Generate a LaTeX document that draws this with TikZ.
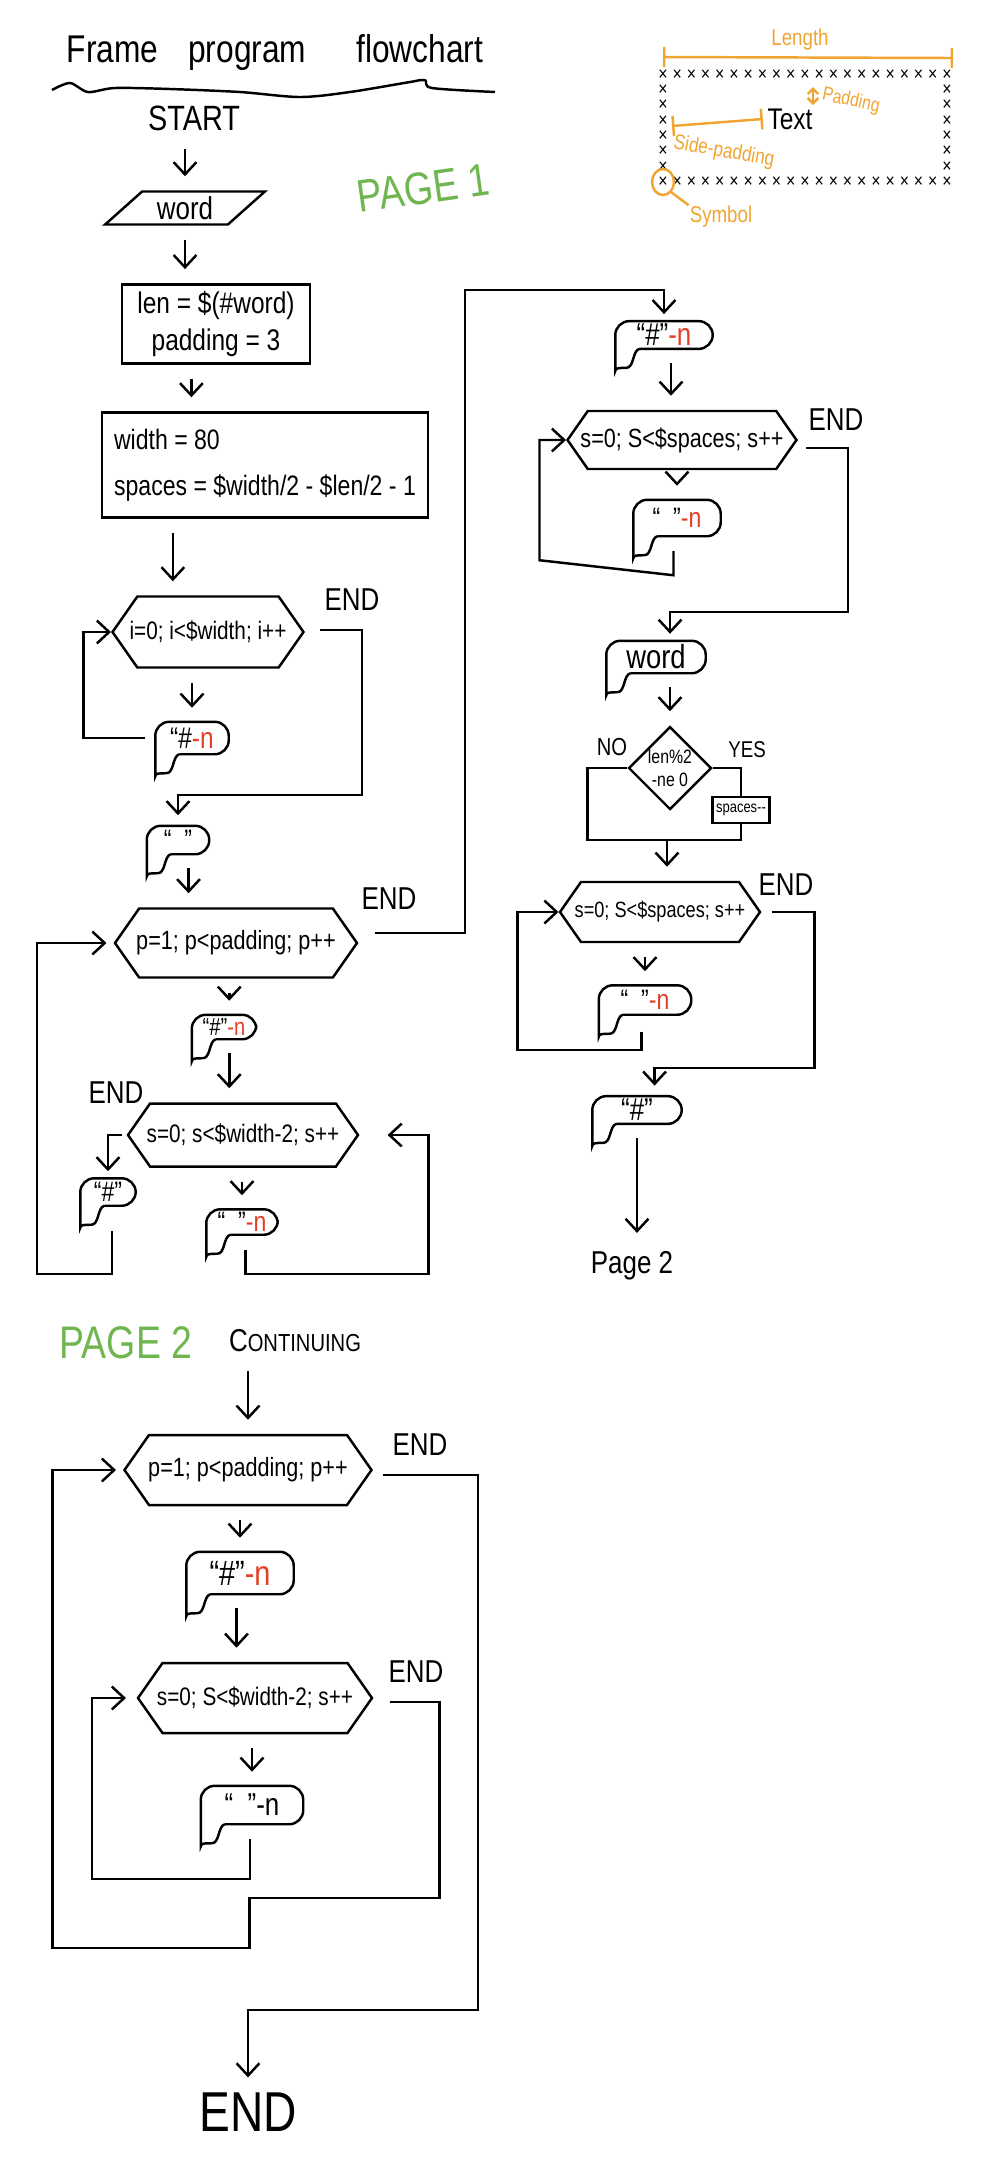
\documentclass[tikz,border=0pt]{standalone}
\usepackage{fontspec}
\setmainfont{Liberation Sans}[FakeStretch=0.82]
\usetikzlibrary{
  calc,
  arrows.meta,
  shapes.geometric,
  shapes.symbols
}
\definecolor{penorange}{RGB}{240,165,50}
\definecolor{pengreen}{RGB}{112,182,80}
\definecolor{penred}{RGB}{226,62,40}
\newcommand{\penfont}[1]{\fontsize{#1}{#1}\selectfont}
\newcommand{\dashn}{\textcolor{penred}{-n}}
\newcommand{\drawbubble}[1]{%
  \draw[rounded corners=4pt] ($(#1.south west)+(24,0)$) -- (#1.south east) -- (#1.north east) -- (#1.north west) -- ($(#1.south west)+(0,8)$)
    [sharp corners] .. controls ($(#1.south west)+(0,19)$) and ($(#1.south west)+(4,19)$) .. ($(#1.south west)+(11,19)$)
    .. controls ($(#1.south west)+(19,19)$) and ($(#1.south west)+(17,2)$) .. ($(#1.south west)+(24,0)$);}

\begin{document}
\begin{tikzpicture}[x=0.1mm, y=-0.1mm, line width=0.7pt,
  >={Straight Barb[length=3.5pt,width=6.5pt]},
  proc/.style={draw, rectangle, inner sep=2pt},
  slanted/.style={draw, trapezium, trapezium left angle=48, trapezium right angle=132, trapezium stretches=true, inner sep=1pt},
  loophex/.style={draw, signal, signal to=east and west, signal pointer angle=110, inner xsep=-3pt, inner ysep=1pt},
  decide/.style={draw, diamond, aspect=1, inner sep=0pt},
  outbox/.style={inner sep=0.5pt},
  lbl/.style={inner sep=1pt},
  flow/.style={->, shorten <=4pt, shorten >=4pt},
  cross/.style={inner sep=0pt, font=\penfont{5.5}, text height=3pt, text depth=0pt},
  note/.style={text=penorange, inner sep=0pt}]
\useasboundingbox (0,0) rectangle (990,2176);

% title
\node[lbl, font=\penfont{11}] (title) at (275,52) {Frame\hspace{3mm}program\hspace{5mm}flowchart};
\draw plot[smooth] coordinates {(52,90) (70,83) (88,92) (115,88) (170,89) (240,92) (300,97) (350,92) (410,82) (425,80) (432,88) (495,92)};
\node[text=pengreen, font=\penfont{13}, rotate=8] (page1) at (423,188) {PAGE 1};

% legend
\node[note, font=\penfont{6.5}] (lenlbl) at (800,40) {Length};
\coordinate (lenL) at (663,57);
\coordinate (lenR) at (953,58);
\draw[penorange, |-|] (lenL) -- (lenR);
\foreach \i in {0,...,20} {
  \node[cross] (top\i) at ({663+14.2*\i},75) {×};
  \node[cross] (bot\i) at ({663+14.2*\i},182) {×};
}
\foreach \j in {1,...,6} {
  \node[cross] (lft\j) at (663,{75+15.3*\j}) {×};
  \node[cross] (rgt\j) at (947,{75+15.3*\j}) {×};
}
\node[lbl, font=\penfont{8.5}] (textlbl) at (790,119) {Text};
\coordinate (spL) at (672,126);
\draw[penorange, |-|] (spL) -- (textlbl.west);
\node[note, font=\penfont{6}, rotate=-10] (sidelbl) at (724,152) {Side-padding};
\coordinate (padT) at (813,87);
\coordinate (padB) at (813,105);
\draw[penorange, <->, >={Straight Barb[length=1.5pt,width=3pt]}] (padT) -- (padB);
\node[note, font=\penfont{5.5}, rotate=-12] (padlbl) at (851,101) {Padding};
\draw[penorange] (bot0) circle [x radius=1.1mm, y radius=1.3mm];
\node[note, font=\penfont{6.5}] (symlbl) at (721,217) {Symbol};
\draw[penorange] (bot0) ++(8,10) -- (symlbl.north west);

% page 1, left column
\node[lbl, font=\penfont{10}] (start) at (194,118) {START};
\node[slanted, font=\penfont{9}, minimum width=16mm, minimum height=3.3mm] (word) at (185,208) {word};
\node[proc, font=\penfont{8.5}, align=center, minimum width=18.8mm, minimum height=7.2mm] (init) at (216,324) {len = \$(\#word)\\[2pt] padding = 3};
\node[proc, font=\penfont{8}, align=left, minimum width=32.6mm, minimum height=10.5mm] (setup) at (265,465) {width = 80\\[5pt] spaces = \$width/2 - \$len/2 - 1};
\node[loophex, font=\penfont{7.2}, minimum width=19.1mm, minimum height=7.1mm] (loopI) at (208,632) {i=0; i<\$width; i++};
\node[lbl, font=\penfont{9}] (endI) at (352,600) {END};
\node[outbox, font=\penfont{8.5}, minimum width=7.1mm, minimum height=3mm] (outI) at (192,738) {“\#\dashn};
\drawbubble{outI}
\node[outbox, font=\penfont{8}, minimum width=6mm, minimum height=2.6mm] (outNL) at (178,840) {“\ \ ”};
\drawbubble{outNL}
\node[loophex, font=\penfont{7.5}, minimum width=24.2mm, minimum height=6.9mm] (loopP) at (236,943) {p=1; p<padding; p++};
\node[lbl, font=\penfont{9}] (endP) at (389,899) {END};
\node[outbox, font=\penfont{7}, minimum width=6.2mm, minimum height=2.2mm] (outP) at (224,1027) {“\#”\dashn};
\drawbubble{outP}
\node[loophex, font=\penfont{7.2}, minimum width=23mm, minimum height=6.3mm] (loopS) at (243,1135) {s=0; s<\$width-2; s++};
\node[lbl, font=\penfont{9}] (endS) at (116,1093) {END};
\node[outbox, font=\penfont{8}, minimum width=5.3mm, minimum height=2.5mm] (outHash) at (108,1192) {“\#”};
\drawbubble{outHash}
\node[outbox, font=\penfont{8}, minimum width=6.9mm, minimum height=2.3mm] (outSp) at (242,1222) {“\ \ ”\dashn};
\drawbubble{outSp}

\draw[flow] (word.north |- start.south) -- (word.north);
\draw[flow] (word.south) -- (word.south |- init.north);
\draw[flow] ([xshift=-7pt]init.south) -- ([xshift=-7pt]init.south |- setup.north);
\draw[flow] ([xshift=-10pt]loopI.north |- setup.south) -- ([xshift=-10pt]loopI.north);
\draw[flow] (outI.north |- loopI.south) -- (outI.north);
\draw[->] (outI.west) ++(-10,0) -- ++(-62,0) |- (loopI.west);
\draw[->, shorten >=3pt] (loopI.east) ++(15,-2) -- ++(42,0) -- ++(0,165) -| (outNL.north);
\draw[flow] ([xshift=3pt]outNL.south) -- ([xshift=3pt]outNL.south |- loopP.north);
\draw[flow] ([xshift=1.5pt]outP.north |- loopP.south) -- ([xshift=1.5pt]outP.north);
\draw[flow] ([xshift=1.5pt]outP.south) -- ([xshift=1.5pt]outP.south |- loopS.north);
\draw[->, shorten >=2pt] (loopS.west) ++(-5,0) -| (outHash.north);
\draw[flow] (outSp.north |- loopS.south) -- (outSp.north);
\draw[->, shorten >=8pt] ([xshift=1pt]outSp.south) ++(0,15) -- ++(0,24) -- ++(183,0) |- (loopS.east);
\draw[->, shorten >=2pt] (outHash.south) ++(4,25) -- ++(0,43) -- ++(-75,0) |- (loopP.west);

% page 1, right column
\node[outbox, font=\penfont{9}, minimum width=9.5mm, minimum height=2.3mm] (outR1) at (664,335) {“\#”\dashn};
\drawbubble{outR1}
\node[loophex, font=\penfont{7.5}, minimum width=22.9mm, minimum height=5.8mm] (loopA) at (682,440) {s=0; S<\$spaces; s++};
\node[lbl, font=\penfont{9}] (endA) at (836,420) {END};
\node[outbox, font=\penfont{8}, minimum width=8.5mm, minimum height=3.4mm] (outA) at (677,518) {“\ \ ”\dashn};
\drawbubble{outA}
\node[outbox, font=\penfont{9.5}, minimum width=9.7mm, minimum height=3mm] (outWord) at (656,657) {word};
\drawbubble{outWord}
\node[decide, font=\penfont{5.5}, align=center, minimum width=8.3mm, minimum height=8.3mm] (check) at (670,768) {len\%2\\[1pt] -ne 0};
\node[lbl, font=\penfont{7}] (nolbl) at (612,747) {NO};
\node[lbl, font=\penfont{6.5}] (yeslbl) at (747,750) {YES};
\node[proc, font=\penfont{4.5}, inner sep=0.5pt, minimum width=5.7mm, minimum height=2.6mm] (dec) at (741,810) {spaces-{}-};
\coordinate (join) at (667,840);
\node[loophex, font=\penfont{6.3}, minimum width=20mm, minimum height=6mm] (loopB) at (660,912) {s=0; S<\$spaces; s++};
\node[lbl, font=\penfont{9}] (endB) at (786,885) {END};
\node[outbox, font=\penfont{8}, minimum width=9mm, minimum height=2.7mm] (outB) at (645,1000) {“\ \ ”\dashn};
\drawbubble{outB}
\node[outbox, font=\penfont{9}, minimum width=8.7mm, minimum height=2.5mm] (outHash2) at (637,1110) {“\#”};
\drawbubble{outHash2}
\node[lbl, font=\penfont{9}] (pnext) at (632,1266) {Page 2};

\coordinate (turn) at (465,290);
\draw[->, shorten >=2pt] (loopP.east) ++(16,-10) -| (turn) -| (outR1.north);
\draw[flow] ([xshift=2pt]outR1.south) -- ([xshift=2pt]outR1.south |- loopA.north);
\draw[flow] (outA.north |- loopA.south) -- (outA.north);
\draw[->] ([xshift=-1pt]outA.south) ++(0,15) -- ++(0,24) -- ++(-134,-15) |- (loopA.west);
\draw[->, shorten >=2pt] (loopA.east) ++(8,8) -- ++(42,0) -- ++(0,164) -| ([xshift=4pt]outWord.north);
\draw[flow] (check.north |- outWord.south) -- (check.north);
\draw (check.west) -- ++(-40,0) -- ++(0,72) -| (dec.south);
\draw (check.east) -| (dec.north);
\draw[flow, shorten <=0pt] (join) -- (join |- loopB.north);
\draw[flow] (outB.north |- loopB.south) -- (outB.north);
\draw[->] ([xshift=-1pt]outB.south) ++(0,17) -- ++(0,18) -- ++(-124,0) |- (loopB.west);
\draw[->, shorten >=3pt] (loopB.east) ++(10,0) -- ++(43,0) -- ++(0,156) -| ([xshift=5pt]outHash2.north);
\draw[flow] (outHash2.south) -- (outHash2.south |- pnext.north);

% page 2
\node[text=pengreen, font=\penfont{13}] (page2) at (126,1343) {PAGE 2};
\node[lbl] (cont) at (295,1341) {{\penfont{9}C}{\penfont{7}ONTINUING}};
\node[loophex, font=\penfont{7.5}, minimum width=24.7mm, minimum height=7mm] (loopP2) at (248,1470) {p=1; p<padding; p++};
\node[lbl, font=\penfont{9}] (endP2) at (420,1445) {END};
\node[outbox, font=\penfont{10}, minimum width=10.5mm, minimum height=4mm] (outP2) at (240,1573) {“\#”\dashn};
\drawbubble{outP2}
\node[loophex, font=\penfont{7.2}, minimum width=23.4mm, minimum height=7mm] (loopS2) at (255,1698) {s=0; S<\$width-2; s++};
\node[lbl, font=\penfont{9}] (endS2) at (416,1672) {END};
\node[outbox, font=\penfont{9}, minimum width=10mm, minimum height=3.6mm] (outS2) at (252,1805) {“\ \ ”-n};
\drawbubble{outS2}
\node[lbl, font=\penfont{16}] (fin) at (248,2112) {END};

\draw[flow] (loopP2.north |- cont.south) -- (loopP2.north);
\draw[flow] (outP2.north |- loopP2.south) -- (outP2.north);
\draw[flow] ([xshift=-1pt]outP2.south) -- ([xshift=-1pt]outP2.south |- loopS2.north);
\draw[flow] (outS2.north |- loopS2.south) -- (outS2.north);
\draw[->, shorten >=3pt] (outS2.south) ++(-2,15) -- ++(0,40) -- ++(-158,0) |- (loopS2.west);
\draw[->, shorten >=2pt] (loopS2.east) ++(16,4) -- ++(50,0) -- ++(0,196) -- ++(-190,0) -- ++(0,50) -- ++(-197,0) |- (loopP2.west);
\draw[->, shorten >=3pt] (loopP2.east) ++(10,5) -- ++(95,0) -- ++(0,535) -| (fin.north);
\end{tikzpicture}
\end{document}
